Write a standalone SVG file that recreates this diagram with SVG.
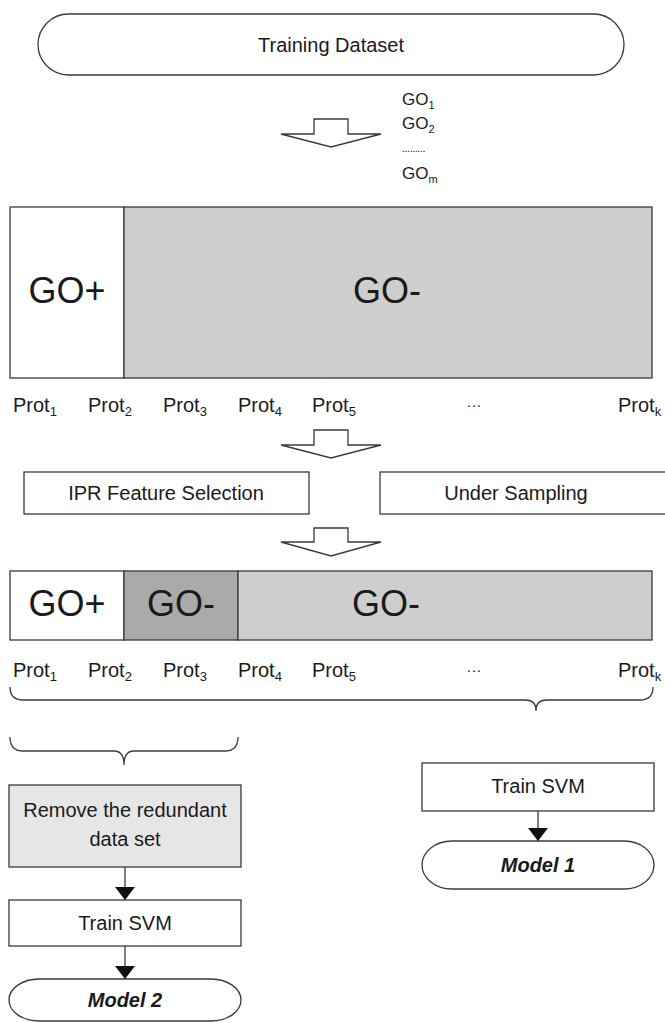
<svg xmlns="http://www.w3.org/2000/svg" width="665" height="1023" viewBox="0 0 665 1023">
  <defs>
    <style>
      .ln { fill: none; stroke: #3a3a3a; stroke-width: 1.3; }
      .box { stroke: #3a3a3a; stroke-width: 1.3; }
      .t { font-family: "Liberation Sans", Arial, sans-serif; fill: #1a1a1a; }
      .lbl { font-size: 20px; }
      .big { font-size: 36px; }
      .go { font-size: 17px; }
      .sub { font-size: 13px; }
      .gsub { font-size: 11px; }
      .bi { font-weight: bold; font-style: italic; }
    </style>
    <marker id="ah" viewBox="0 0 13 20" refX="13" refY="10" markerWidth="13" markerHeight="20" markerUnits="userSpaceOnUse" orient="auto">
      <path d="M0,0 L13,10 L0,20 Z" fill="#111"/>
    </marker>
  </defs>
  <rect width="665" height="1023" fill="#ffffff"/>

  <!-- start terminal -->
  <g id="training-dataset">
    <rect x="38" y="14" width="586" height="61" rx="30.5" ry="30.5" fill="#ffffff" class="box"/>
    <text x="331" y="52" text-anchor="middle" class="t lbl">Training Dataset</text>
  </g>

  <!-- list of GO terms -->
  <g id="go-terms">
    <text x="402" y="105" class="t go">GO<tspan class="gsub" dy="4">1</tspan></text>
    <text x="402" y="129" class="t go">GO<tspan class="gsub" dy="4">2</tspan></text>
    <text x="402" y="152" class="t gsub" letter-spacing="-0.5">.........</text>
    <text x="402" y="179" class="t go">GO<tspan class="gsub" dy="4">m</tspan></text>
  </g>

  <!-- block arrows -->
  <g id="block-arrows" class="ln">
    <polygon points="314,119 348,119 348,134 381,134 331,147 281,134 314,134" fill="#ffffff"/>
    <polygon points="314,430 348,430 348,445 381,445 331,458 281,445 314,445" fill="#ffffff"/>
    <polygon points="314,528 348,528 348,542 381,542 331,556 281,542 314,542" fill="#ffffff"/>
  </g>

  <!-- full protein set split by annotation -->
  <g id="split-all">
    <rect x="10" y="207" width="114" height="171" fill="#ffffff" class="box"/>
    <rect x="124" y="207" width="528" height="171" fill="#cecece" class="box"/>
    <text x="67" y="303" text-anchor="middle" class="t big">GO+</text>
    <text x="387" y="303" text-anchor="middle" class="t big">GO-</text>
  </g>

  <g id="prot-row-1" class="t lbl">
    <text x="13" y="412">Prot<tspan class="sub" dy="4">1</tspan></text>
    <text x="88" y="412">Prot<tspan class="sub" dy="4">2</tspan></text>
    <text x="163" y="412">Prot<tspan class="sub" dy="4">3</tspan></text>
    <text x="238" y="412">Prot<tspan class="sub" dy="4">4</tspan></text>
    <text x="312" y="412">Prot<tspan class="sub" dy="4">5</tspan></text>
    <text x="474" y="410" text-anchor="middle" font-size="15">···</text>
    <text x="618" y="412">Prot<tspan class="sub" dy="4">k</tspan></text>
  </g>

  <!-- preprocessing steps -->
  <g id="ipr-feature-selection">
    <rect x="24" y="472" width="285" height="42" fill="#ffffff" class="box"/>
    <text x="166" y="500" text-anchor="middle" class="t lbl">IPR Feature Selection</text>
  </g>
  <g id="under-sampling">
    <rect x="380" y="472" width="300" height="42" fill="#ffffff" class="box"/>
    <text x="516" y="500" text-anchor="middle" class="t lbl">Under Sampling</text>
  </g>

  <!-- reduced protein set -->
  <g id="split-sampled">
    <rect x="10" y="571" width="114" height="69" fill="#ffffff" class="box"/>
    <rect x="124" y="571" width="114" height="69" fill="#aaaaaa" class="box"/>
    <rect x="238" y="571" width="414" height="69" fill="#cecece" class="box"/>
    <text x="67" y="616" text-anchor="middle" class="t big">GO+</text>
    <text x="181" y="616" text-anchor="middle" class="t big">GO-</text>
    <text x="386" y="616" text-anchor="middle" class="t big">GO-</text>
  </g>

  <g id="prot-row-2" class="t lbl">
    <text x="13" y="677">Prot<tspan class="sub" dy="4">1</tspan></text>
    <text x="88" y="677">Prot<tspan class="sub" dy="4">2</tspan></text>
    <text x="163" y="677">Prot<tspan class="sub" dy="4">3</tspan></text>
    <text x="238" y="677">Prot<tspan class="sub" dy="4">4</tspan></text>
    <text x="312" y="677">Prot<tspan class="sub" dy="4">5</tspan></text>
    <text x="474" y="675" text-anchor="middle" font-size="15">···</text>
    <text x="618" y="677">Prot<tspan class="sub" dy="4">k</tspan></text>
  </g>

  <!-- braces grouping the proteins -->
  <g id="braces" class="ln">
    <path d="M10,687 Q10,700 23,700 L526,700 Q536,700 536,711 Q536,700 546,700 L640,700 Q653,700 653,687"/>
    <path d="M10,737 Q10,751 23,751 L114,751 Q124,751 124,765 Q124,751 134,751 L225,751 Q238,751 238,737"/>
  </g>

  <!-- left branch -->
  <g id="remove-redundant">
    <rect x="9" y="785" width="232" height="82" fill="#e6e6e6" class="box"/>
    <text x="125" y="817" text-anchor="middle" class="t lbl">Remove the redundant</text>
    <text x="125" y="846" text-anchor="middle" class="t lbl">data set</text>
  </g>
  <g id="train-svm-2">
    <rect x="9" y="900" width="232" height="46" fill="#ffffff" class="box"/>
    <text x="125" y="930" text-anchor="middle" class="t lbl">Train SVM</text>
  </g>
  <g id="model-2">
    <rect x="9" y="979" width="232" height="42" rx="30" ry="21" fill="#ffffff" class="box"/>
    <text x="125" y="1007" text-anchor="middle" class="t lbl bi">Model 2</text>
  </g>

  <!-- right branch -->
  <g id="train-svm-1">
    <rect x="422" y="763" width="232" height="48" fill="#ffffff" class="box"/>
    <text x="538" y="793" text-anchor="middle" class="t lbl">Train SVM</text>
  </g>
  <g id="model-1">
    <rect x="422" y="841" width="232" height="48" rx="30" ry="24" fill="#ffffff" class="box"/>
    <text x="538" y="872" text-anchor="middle" class="t lbl bi">Model 1</text>
  </g>

  <!-- flow connectors -->
  <g id="connectors" class="ln">
    <line x1="125" y1="867" x2="125" y2="900" marker-end="url(#ah)"/>
    <line x1="125" y1="946" x2="125" y2="979" marker-end="url(#ah)"/>
    <line x1="538" y1="811" x2="538" y2="841" marker-end="url(#ah)"/>
  </g>
</svg>
